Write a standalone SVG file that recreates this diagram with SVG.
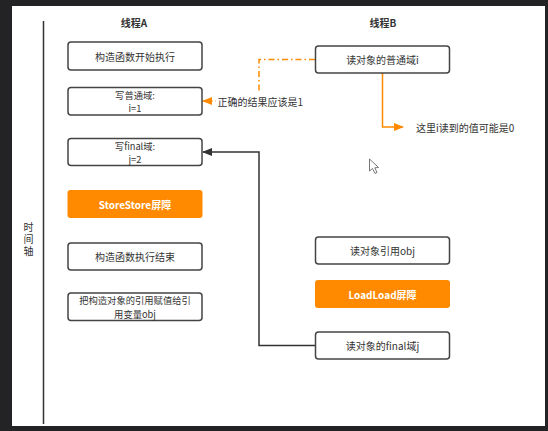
<svg xmlns="http://www.w3.org/2000/svg" width="548" height="431" viewBox="0 0 548 431">
<defs>
<style>
text{font-family:"Noto Sans CJK SC","Liberation Sans",sans-serif;font-size:10px;fill:#333;text-anchor:middle;dominant-baseline:central}
.box{fill:#fff;stroke:#444;stroke-width:1.5}
.bar{fill:#ff8a00;stroke:none}
.bt{fill:#fff;font-weight:bold}
.hd{font-weight:bold}
.lb{text-anchor:start}
.two{font-size:9.3px}
.vt{writing-mode:vertical-rl;text-anchor:start;letter-spacing:2px;dominant-baseline:auto}
</style>
<marker id="ao" viewBox="0 0 10 10" refX="9" refY="5" markerWidth="10" markerHeight="10" markerUnits="userSpaceOnUse" orient="auto"><path d="M0,1 L10,5 L0,9 Z" fill="#ff8a00"/></marker>
<marker id="ab" viewBox="0 0 10 10" refX="9" refY="5" markerWidth="10" markerHeight="10" markerUnits="userSpaceOnUse" orient="auto"><path d="M0,1 L10,5 L0,9 Z" fill="#333"/></marker>
</defs>
<rect x="0" y="0" width="548" height="431" fill="#232325"/>
<rect x="12" y="6" width="533" height="420" fill="#fff"/>
<line x1="43.5" y1="21" x2="43.5" y2="424" stroke="#333" stroke-width="1.5"/>
<g id="axis-label"><text class="vt" x="28.5" y="222">时间轴</text></g>
<g id="headA"><text class="hd" x="134" y="22">线程A</text></g>
<g id="headB"><text class="hd" x="383" y="22">线程B</text></g>

<g id="connectors">
<path d="M315,59.5 H259 V101 H203" fill="none" stroke="#ff8a00" stroke-width="1.5" stroke-dasharray="6,3,1.5,3" marker-end="url(#ao)"/>
<path d="M382.5,73 V127 H403" fill="none" stroke="#ff8a00" stroke-width="1.5" marker-end="url(#ao)"/>
<path d="M315,345.5 H259 V152 H203" fill="none" stroke="#333" stroke-width="1.5" marker-end="url(#ab)"/>
<rect x="216" y="91" width="86" height="18" fill="#fff"/>
<text class="lb" x="217.5" y="101">正确的结果应该是1</text>
<text class="lb" x="416" y="127.5">这里i读到的值可能是0</text>
</g>

<g id="a1"><rect class="box" x="68" y="42" width="134" height="28" rx="3"/><text x="135" y="56">构造函数开始执行</text></g>
<g id="a2"><rect class="box" x="68" y="87.5" width="134" height="27.5" rx="3"/><text class="two" x="135" y="94.6">写普通域:<tspan x="135" dy="13.6">i=1</tspan></text></g>
<g id="a3"><rect class="box" x="68" y="138.5" width="134" height="27" rx="3"/><text class="two" x="135" y="145.6">写final域:<tspan x="135" dy="13.6">j=2</tspan></text></g>
<g id="a4"><rect class="bar" x="67.5" y="190" width="135" height="28" rx="3"/><text class="bt" x="135" y="204">StoreStore屏障</text></g>
<g id="a5"><rect class="box" x="68" y="243" width="134" height="27" rx="3"/><text x="135" y="256.5">构造函数执行结束</text></g>
<g id="a6"><rect class="box" x="68" y="293" width="134" height="27.5" rx="3"/><text class="two" x="135" y="300.2">把构造对象的引用赋值给引<tspan x="135" dy="13.6">用变量obj</tspan></text></g>

<g id="b1"><rect class="box" x="315.5" y="46" width="134" height="27" rx="3"/><text x="382.5" y="59.5">读对象的普通域i</text></g>
<g id="b2"><rect class="box" x="315.5" y="237" width="134" height="27" rx="3"/><text x="382.5" y="250.5">读对象引用obj</text></g>
<g id="b3"><rect class="bar" x="315" y="280" width="135" height="28" rx="3"/><text class="bt" x="382.5" y="294">LoadLoad屏障</text></g>
<g id="b4"><rect class="box" x="315.5" y="332" width="134" height="27" rx="3"/><text x="382.5" y="345.5">读对象的final域j</text></g>

<path d="M369.5,159 V171 L372.5,168.5 L375,173.5 L377,172.5 L374.8,167.8 L378.5,167.5 Z" fill="#fff" stroke="#555" stroke-width="0.8"/>
</svg>
